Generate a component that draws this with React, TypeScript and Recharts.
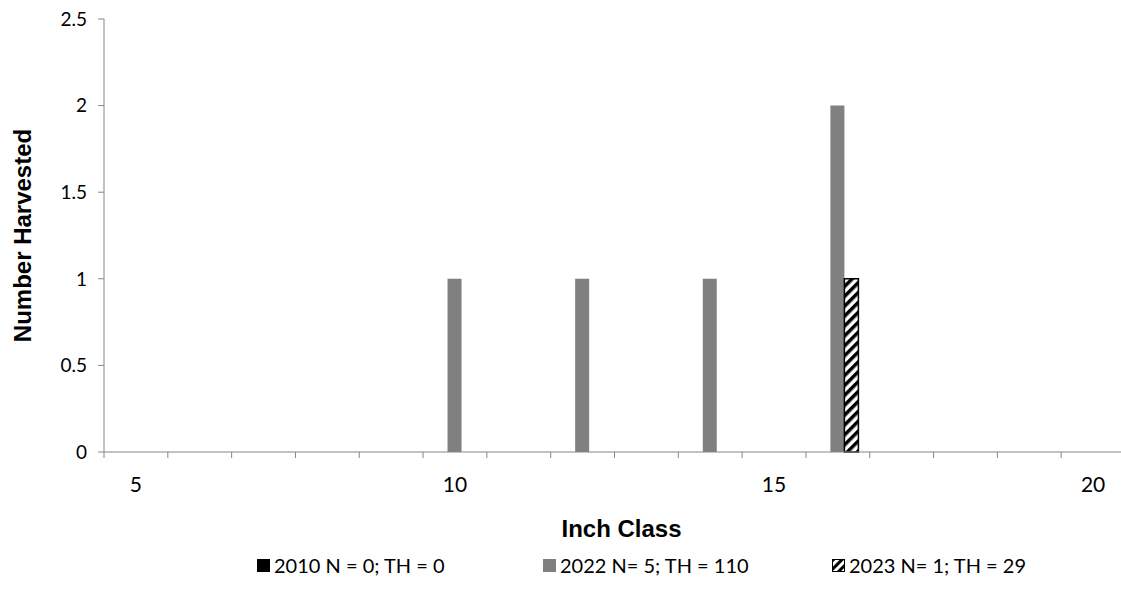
import React from 'react';
import { BarChart, Bar, XAxis, YAxis } from 'recharts';

const inchClasses = [5, 6, 7, 8, 9, 10, 11, 12, 13, 14, 15, 16, 17, 18, 19, 20];
const harvest2010 = [0, 0, 0, 0, 0, 0, 0, 0, 0, 0, 0, 0, 0, 0, 0, 0];
const harvest2022 = [0, 0, 0, 0, 0, 1, 0, 1, 0, 1, 0, 2, 0, 0, 0, 0];
const harvest2023 = [0, 0, 0, 0, 0, 0, 0, 0, 0, 0, 0, 1, 0, 0, 0, 0];
const labelledClasses = [5, 10, 15, 20];
const yTicks = [0, 0.5, 1, 1.5, 2, 2.5];
const seriesNames = ['2010 N = 0; TH = 0', '2022 N= 5; TH = 110', '2023 N= 1; TH = 29'];

const data = inchClasses.map((c, i) => ({
    inch: c,
    y2010: harvest2010[i],
    y2022: harvest2022[i],
    y2023: harvest2023[i],
}));

const CHART_W = 1130;
const CHART_H = 607;
const Y_AXIS_W = 104;
const MARGIN = { top: 19, right: 5, left: 0, bottom: 65 };
const BAND = (CHART_W - MARGIN.right - MARGIN.left - Y_AXIS_W) / inchClasses.length;
const AXIS_COLOR = '#868686';
const TICK_FONT = 'Lato, "Open Sans", sans-serif';
const TITLE_FONT = '"Liberation Sans", Arial, sans-serif';

function InchTick(props: any) {
    const { x, y, payload, index } = props;
    const left = x - BAND / 2;
    const isLast = index === inchClasses.length - 1;
    return (
        <g>
            <line x1={left} x2={left} y1={y} y2={y + 6} stroke={AXIS_COLOR} />
            {isLast && <line x1={x + BAND / 2} x2={x + BAND / 2} y1={y} y2={y + 6} stroke={AXIS_COLOR} />}
            {labelledClasses.includes(payload.value) && (
                <text x={x} y={y + 40} textAnchor="middle" fontSize={21} fontFamily={TICK_FONT} fill="#000">
                    {payload.value}
                </text>
            )}
        </g>
    );
}

function LegendSwatch({ kind }: { kind: number }) {
    if (kind === 0) return <svg width={13} height={13}><rect x={0} y={0} width={13} height={13} fill="#000" /></svg>;
    if (kind === 1) return <svg width={13} height={13}><rect x={0} y={0} width={13} height={13} fill="#808080" /></svg>;
    return (
        <svg width={13} height={13}>
            <defs>
                <pattern id="hatchLegend" patternUnits="userSpaceOnUse" width={6} height={6} patternTransform="rotate(45)">
                    <rect x={0} y={0} width={6} height={6} fill="#fff" />
                    <rect x={0} y={0} width={3} height={6} fill="#000" />
                </pattern>
            </defs>
            <rect x={0.5} y={0.5} width={12} height={12} fill="url(#hatchLegend)" stroke="#000" />
        </svg>
    );
}

export default function App() {
    const legendLeft = [257, 543, 832];
    return (
        <div style={{ position: 'fixed', left: 0, top: 0, width: 1121, height: 607, overflow: 'hidden', background: '#fff' }}>
            <BarChart
                width={CHART_W}
                height={CHART_H}
                data={data}
                margin={MARGIN}
                barGap={0}
                barCategoryGap="16.4%"
            >
                <defs>
                    <pattern id="hatch" patternUnits="userSpaceOnUse" width={7} height={7} patternTransform="rotate(45)">
                        <rect x={0} y={0} width={7} height={7} fill="#fff" />
                        <rect x={0} y={0} width={3.5} height={7} fill="#000" />
                    </pattern>
                </defs>
                <XAxis
                    dataKey="inch"
                    interval={0}
                    tickLine={false}
                    tickSize={0}
                    tickMargin={0}
                    height={90}
                    axisLine={{ stroke: AXIS_COLOR }}
                    tick={<InchTick />}
                    label={{
                        value: 'Inch Class',
                        position: 'insideBottom',
                        offset: 5,
                        dx: 7,
                        style: { fontFamily: TITLE_FONT, fontWeight: 'bold', fontSize: 24, fill: '#000' },
                    }}
                />
                <YAxis
                    width={Y_AXIS_W}
                    domain={[0, 2.5]}
                    ticks={yTicks}
                    interval={0}
                    tickSize={6}
                    tickMargin={11}
                    axisLine={{ stroke: AXIS_COLOR }}
                    tickLine={{ stroke: AXIS_COLOR }}
                    tick={{ fontFamily: TICK_FONT, fontSize: 19, fill: '#000' }}
                    label={{
                        value: 'Number Harvested',
                        angle: -90,
                        position: 'insideLeft',
                        offset: 22,
                        style: { textAnchor: 'middle', fontFamily: TITLE_FONT, fontWeight: 'bold', fontSize: 24, fill: '#000' },
                    }}
                />
                <Bar dataKey="y2010" name={seriesNames[0]} fill="#000" isAnimationActive={false} />
                <Bar dataKey="y2022" name={seriesNames[1]} fill="#808080" isAnimationActive={false} />
                <Bar dataKey="y2023" name={seriesNames[2]} fill="url(#hatch)" stroke="#000" strokeWidth={1.5} isAnimationActive={false} />
            </BarChart>
            {seriesNames.map((name, i) => (
                <div
                    key={name}
                    style={{
                        position: 'absolute',
                        left: legendLeft[i],
                        top: 553,
                        display: 'flex',
                        alignItems: 'center',
                        gap: 4,
                        fontFamily: TICK_FONT,
                        fontSize: 20,
                        whiteSpace: 'nowrap',
                    }}
                >
                    <LegendSwatch kind={i} />
                    <span>{name}</span>
                </div>
            ))}
        </div>
    );
}
